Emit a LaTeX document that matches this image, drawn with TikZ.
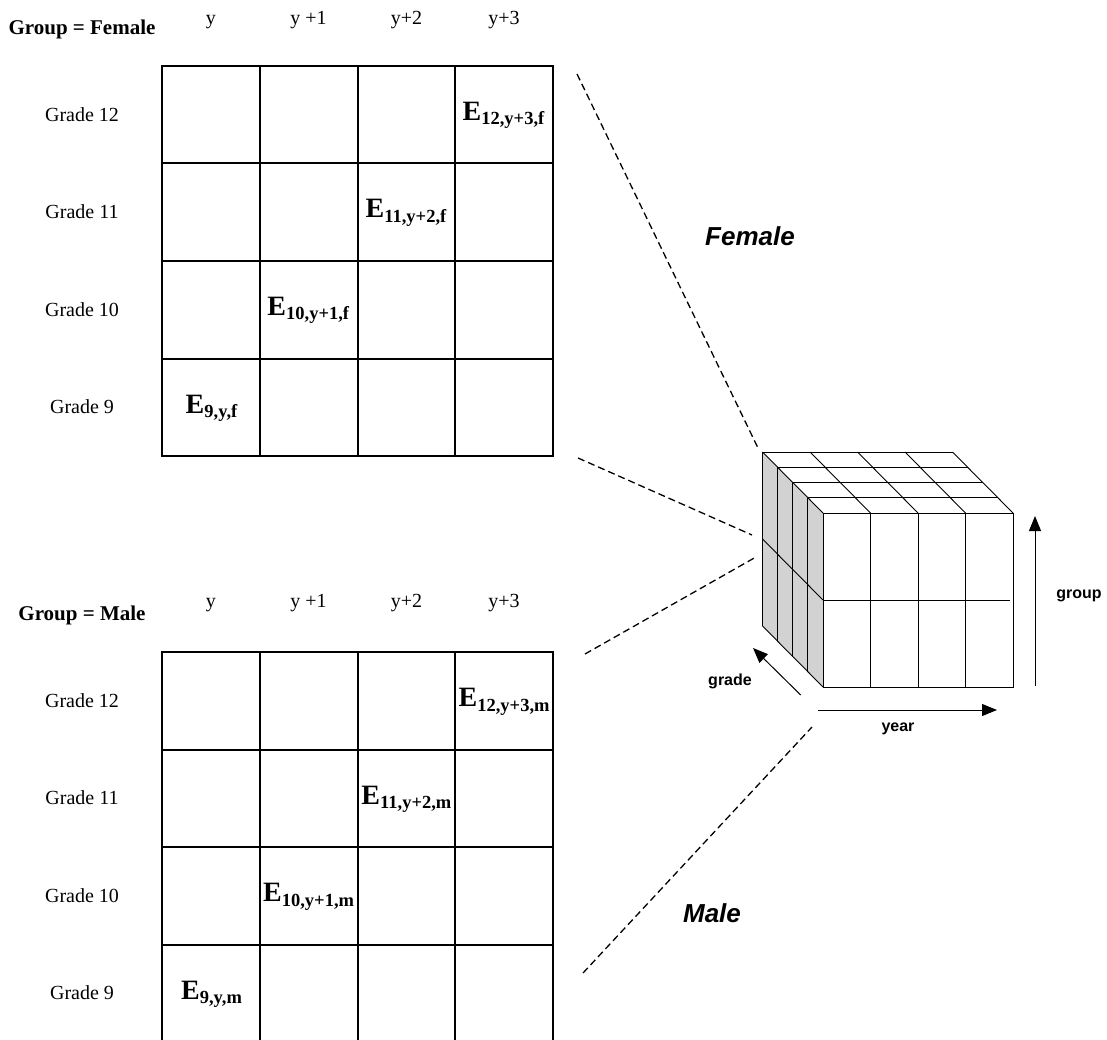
\documentclass[tikz,border=0pt]{standalone}
\usepackage{fontspec}
\setmainfont{Liberation Serif}
\newfontfamily\arialf{Liberation Sans}
\usetikzlibrary{arrows.meta}
\newcommand{\Elab}[1]{{\fontsize{28}{28}\selectfont\bfseries E}\raisebox{-4.5pt}{\fontsize{18.5}{18.5}\selectfont\bfseries #1}}
\tikzset{
  gridline/.style={line width=2pt, line cap=rect},
  hdr/.style={font=\fontsize{20}{20}\selectfont, anchor=base, inner sep=0pt},
  grp/.style={font=\fontsize{21}{21}\selectfont\bfseries, anchor=base, inner sep=0pt},
  rowlab/.style={font=\fontsize{20}{20}\selectfont, anchor=base, inner sep=0pt},
  elab/.style={anchor=base, inner sep=0pt},
  bigital/.style={font=\arialf\fontsize{26}{26}\selectfont\bfseries\itshape, inner sep=0pt},
  axlab/.style={font=\arialf\fontsize{16}{16}\selectfont\bfseries, inner sep=0pt},
  dashline/.style={line width=1.3pt, dash pattern=on 7pt off 4pt},
  cubeline/.style={line width=0.9pt, line join=miter},
  axarrow/.style={line width=1pt, -{Triangle[length=15pt,width=12pt]}}
}
\begin{document}
\begin{tikzpicture}[x=1pt,y=-1pt]
\useasboundingbox (0,0) rectangle (1107,1040);
\clip (0,0) rectangle (1107,1040);

% ---------- Female grid ----------
\foreach \x in {162,259.75,357.5,455.25,553} \draw[gridline] (\x,66) -- (\x,456);
\foreach \y in {66,163.5,261,358.5,456} \draw[gridline] (162,\y) -- (553,\y);
\node[grp] (gf) at (82,35) {Group = Female};
\node[hdr] (fh1) at (210.9,25) {y};
\node[hdr] (fh2) at (308.6,25) {y +1};
\node[hdr] (fh3) at (406.4,25) {y+2};
\node[hdr] (fh4) at (504.1,25) {y+3};
\node[rowlab] (fr12) at (82,121.2) {Grade 12};
\node[rowlab] (fr11) at (82,218.7) {Grade 11};
\node[rowlab] (fr10) at (82,316.2) {Grade 10};
\node[rowlab] (fr9) at (82,413.7) {Grade 9};
\node[elab] (fe12) at (503.5,120.5) {\Elab{12,y+3,f}};
\node[elab] (fe11) at (406,218) {\Elab{11,y+2,f}};
\node[elab] (fe10) at (308.3,315.5) {\Elab{10,y+1,f}};
\node[elab] (fe9) at (211.5,413) {\Elab{9,y,f}};

% ---------- Male grid ----------
\foreach \x in {162,259.75,357.5,455.25,553} \draw[gridline] (\x,652) -- (\x,1042);
\foreach \y in {652,749.5,847,944.5,1042} \draw[gridline] (162,\y) -- (553,\y);
\node[grp] (gm) at (82,620) {Group = Male};
\node[hdr] (mh1) at (210.9,607) {y};
\node[hdr] (mh2) at (308.6,607) {y +1};
\node[hdr] (mh3) at (406.4,607) {y+2};
\node[hdr] (mh4) at (504.1,607) {y+3};
\node[rowlab] (mr12) at (82,707.2) {Grade 12};
\node[rowlab] (mr11) at (82,804.7) {Grade 11};
\node[rowlab] (mr10) at (82,902.2) {Grade 10};
\node[rowlab] (mr9) at (82,999.7) {Grade 9};
\node[elab] (me12) at (504.1,706.5) {\Elab{12,y+3,m}};
\node[elab] (me11) at (406.4,804) {\Elab{11,y+2,m}};
\node[elab] (me10) at (308.6,901.5) {\Elab{10,y+1,m}};
\node[elab] (me9) at (211.5,999) {\Elab{9,y,m}};

% ---------- Cube ----------
% left (grade) face, gray
\fill[gray!35] (823,513) -- (762.5,452) -- (762.5,626) -- (823,687) -- cycle;
\foreach \t in {0,0.25,0.5,0.75}
  \draw[cubeline] (762.5+60.5*\t,452+61*\t) -- (762.5+60.5*\t,626+61*\t);
\draw[cubeline] (762.5,539) -- (823,600);
% top face
\foreach \t in {0,0.25,0.5,0.75}
  \draw[cubeline] (823-60.5*\t,513-61*\t) -- ++(190,0);
\draw[cubeline] (762.5,452) -- (952.5,452);
\foreach \x in {823,870.5,918,965.5,1013}
  \draw[cubeline] (\x,513) -- (\x-60.5,452);
% front face
\draw[cubeline] (823,513) rectangle (1013,687);
\foreach \x in {870.5,918,965.5}
  \draw[cubeline] (\x,513) -- (\x,687);
\draw[cubeline] (823,600) -- (1010,600);
\draw[cubeline] (762.5,626) -- (823,687);

% ---------- axis arrows ----------
\coordinate (gb) at (1035,686);
\coordinate (gt) at (1035,516);
\draw[axarrow] (gb) -- (gt);
\node[axlab] (lgroup) at (1079,596) {group};
\coordinate (grs) at (800.7,695);
\coordinate (gre) at (753,648);
\draw[axarrow] (grs) -- (gre);
\node[axlab] (lgrade) at (730,681) {grade};
\coordinate (ys) at (818,710);
\coordinate (ye) at (997,710);
\draw[axarrow] (ys) -- (ye);
\node[axlab] (lyear) at (898,729) {year};

% ---------- labels ----------
\node[bigital] (lfem) at (750,236) {Female};
\node[bigital] (lmale) at (712,913) {Male};

% ---------- dashed guide lines ----------
\coordinate (d1a) at (577,74);  \coordinate (d1b) at (758,448);
\coordinate (d2a) at (578,458); \coordinate (d2b) at (752,535);
\coordinate (d3a) at (585,654); \coordinate (d3b) at (756,557);
\coordinate (d4a) at (583,973); \coordinate (d4b) at (812,727);
\draw[dashline] (d1a) -- (d1b);
\draw[dashline] (d2a) -- (d2b);
\draw[dashline] (d3a) -- (d3b);
\draw[dashline] (d4a) -- (d4b);
\end{tikzpicture}
\end{document}
